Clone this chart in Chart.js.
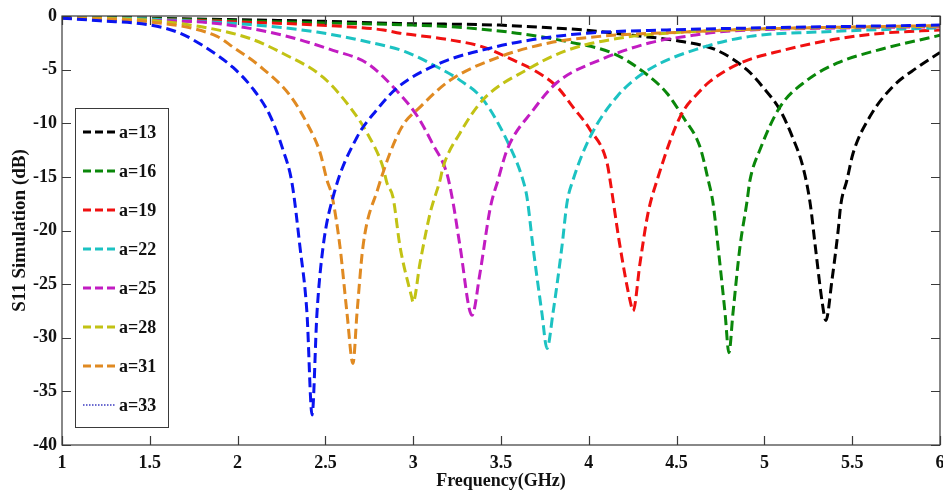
<!DOCTYPE html>
<html>
<head>
<meta charset="utf-8">
<script src="https://cdn.jsdelivr.net/npm/chart.js@4/dist/chart.umd.min.js"></script>
<style>
  html, body { margin: 0; padding: 0; background: #fff; }
  #wrap { width: 943px; height: 495px; }
</style>
</head>
<body>
<div id="wrap"><canvas id="c" width="943" height="495"></canvas></div>
<script>
// ---- data (frequency in GHz, S11 in dB) ----
const seriesLabels = ['a=13', 'a=16', 'a=19', 'a=22', 'a=25', 'a=28', 'a=31', 'a=33'];

const f13 = [1.0,1.5,2.0,2.5,2.92,3.49,3.78,3.97,4.25,4.54,4.73,4.90,4.99,5.09,5.16,5.22,5.26,5.29,5.33,5.35,5.385,5.42,5.435,5.47,5.505,5.60,5.73,5.87,6.0];
const s13 = [-0.05,-0.2,-0.35,-0.5,-0.7,-0.85,-1.1,-1.3,-1.8,-2.4,-3.2,-5.0,-6.6,-8.8,-11.3,-14.1,-17.4,-21.5,-26.8,-28.4,-24.6,-20.0,-17.6,-15.3,-12.8,-9.4,-6.6,-4.8,-3.4];

const f16 = [1.0,1.5,2.0,2.5,3.0,3.3,3.59,3.88,4.14,4.31,4.445,4.536,4.633,4.68,4.707,4.736,4.776,4.798,4.821,4.861,4.90,4.918,4.974,5.088,5.242,5.413,5.641,6.0];
const s16 = [-0.1,-0.25,-0.45,-0.65,-0.85,-1.1,-1.6,-2.4,-3.5,-5.2,-7.2,-9.4,-12.2,-15.3,-17.4,-21.5,-27.7,-31.4,-27.7,-21.5,-17.4,-15.3,-12.5,-8.5,-6.0,-4.4,-3.2,-1.8];

const f19 = [1.0,1.5,2.0,2.45,2.83,2.925,3.18,3.40,3.568,3.682,3.819,3.91,4.007,4.104,4.121,4.178,4.243,4.252,4.292,4.337,4.389,4.52,4.633,4.69,4.861,5.106,5.391,5.675,6.0];
const s19 = [-0.1,-0.3,-0.55,-0.84,-1.3,-1.6,-2.15,-2.9,-4.1,-5.0,-6.6,-8.5,-10.6,-13.7,-15.3,-21.5,-27.1,-27.5,-23.0,-18.4,-15.3,-9.4,-7.0,-6.1,-4.4,-3.2,-2.2,-1.6,-1.3];

const f22 = [1.0,1.5,2.07,2.452,2.737,2.95,3.13,3.267,3.398,3.551,3.625,3.648,3.682,3.733,3.762,3.796,3.847,3.876,3.91,4.007,4.161,4.332,4.633,4.918,5.30,6.0];
const s22 = [-0.1,-0.3,-0.8,-1.5,-2.4,-3.3,-4.7,-6.0,-7.8,-12.2,-15.3,-16.9,-21.5,-27.7,-31.0,-27.7,-21.5,-17.4,-15.3,-11.3,-7.5,-5.1,-3.0,-1.9,-1.5,-1.1];

const f25 = [1.0,1.5,1.883,2.259,2.543,2.737,2.885,3.022,3.113,3.192,3.227,3.267,3.335,3.38,3.44,3.483,3.534,3.682,3.819,4.063,4.349,4.593,4.73,5.5,6.0];
const s25 = [-0.15,-0.4,-0.7,-1.8,-3.2,-4.4,-6.6,-9.3,-12.0,-14.7,-17.4,-21.5,-27.9,-24.0,-17.8,-15.3,-12.5,-8.8,-6.2,-4.1,-2.5,-1.8,-1.5,-1.1,-1.0];

const f28 = [1.0,1.5,1.826,2.071,2.259,2.486,2.64,2.737,2.828,2.851,2.885,2.925,2.991,2.999,3.039,3.096,3.113,3.153,3.17,3.267,3.398,3.648,3.876,4.161,4.445,5.0,6.0];
const s28 = [-0.15,-0.4,-1.1,-2.1,-3.5,-5.7,-8.5,-10.9,-14.1,-15.6,-16.9,-21.5,-26.2,-26.7,-23.0,-18.4,-17.4,-15.3,-14.1,-10.9,-7.8,-5.0,-3.2,-2.1,-1.6,-1.2,-0.95];

const f31 = [1.0,1.5,1.883,1.974,2.128,2.298,2.395,2.469,2.509,2.538,2.583,2.623,2.657,2.68,2.714,2.797,2.93,3.039,3.21,3.494,3.779,4.063,4.536,5.0,6.0];
const s31 = [-0.2,-0.55,-1.9,-2.9,-4.7,-7.4,-10.0,-12.7,-15.3,-16.8,-21.5,-27.7,-32.4,-27.7,-21.5,-16.2,-10.5,-8.5,-6.0,-3.8,-2.5,-1.9,-1.5,-1.2,-0.9];

const f33 = [1.0,1.216,1.5,1.672,1.843,1.974,2.088,2.185,2.259,2.31,2.355,2.395,2.424,2.452,2.487,2.55,2.68,2.79,2.908,3.153,3.437,3.682,3.99,4.445,5.0,6.0];
const s33 = [-0.2,-0.45,-0.84,-1.6,-3.2,-4.8,-6.8,-9.3,-12.5,-15.6,-21.5,-27.7,-37.2,-27.7,-21.5,-16.5,-11.3,-8.8,-6.7,-4.4,-3.0,-2.2,-1.6,-1.3,-1.1,-0.85];

const xTickValues = [1, 1.5, 2, 2.5, 3, 3.5, 4, 4.5, 5, 5.5, 6];
const yTickValues = [0, -5, -10, -15, -20, -25, -30, -35, -40];

// ---- styling ----
const freqs = [f13, f16, f19, f22, f25, f28, f31, f33];
const vals  = [s13, s16, s19, s22, s25, s28, s31, s33];
const colors = ['#000000', '#0a870a', '#f01010', '#1cc2c2', '#c21cc2', '#c2c214', '#e08a22', '#0a14f0'];
const FONT = '"Liberation Serif", "Times New Roman", serif';

const datasets = seriesLabels.map((lab, i) => ({
  label: lab,
  data: freqs[i].map((x, k) => ({ x: x, y: vals[i][k] })),
  borderColor: colors[i],
  backgroundColor: colors[i],
  borderWidth: 3,
  borderDash: [10, 5],
  pointRadius: 0,
  fill: false,
  cubicInterpolationMode: 'monotone',
  order: seriesLabels.length - i,
  legendDash: i === 7 ? [1.5, 1.5] : [8, 4],
  legendColor: i === 7 ? '#6b6bd0' : colors[i],
  legendWidth: i === 7 ? 2 : 3
}));

const frameAndLegend = {
  id: 'frameAndLegend',
  afterDraw(chart) {
    const ctx = chart.ctx;
    const a = chart.chartArea;
    const xs = chart.scales.x, ys = chart.scales.y;
    ctx.save();
    ctx.strokeStyle = '#3a3a3a';
    ctx.lineWidth = 1.2;
    ctx.setLineDash([]);
    ctx.strokeRect(a.left, a.top, a.right - a.left, a.bottom - a.top);
    const TL = 9;
    ctx.beginPath();
    xTickValues.forEach(v => {
      const px = Math.round(xs.getPixelForValue(v)) + 0.5;
      ctx.moveTo(px, a.bottom); ctx.lineTo(px, a.bottom - TL);
      ctx.moveTo(px, a.top); ctx.lineTo(px, a.top + TL);
    });
    yTickValues.forEach(v => {
      const py = Math.round(ys.getPixelForValue(v)) + 0.5;
      ctx.moveTo(a.left, py); ctx.lineTo(a.left + TL, py);
      ctx.moveTo(a.right, py); ctx.lineTo(a.right - TL, py);
    });
    ctx.stroke();

    // legend
    const bx = 75, by = 108, bw = 93, bh = 319;
    ctx.fillStyle = '#ffffff';
    ctx.fillRect(bx, by, bw, bh);
    ctx.strokeStyle = '#3a3a3a';
    ctx.lineWidth = 1;
    ctx.strokeRect(bx + 0.5, by + 0.5, bw, bh);
    ctx.font = 'bold 18px ' + FONT;
    ctx.textBaseline = 'middle';
    ctx.textAlign = 'left';
    chart.data.datasets.forEach((ds, i) => {
      const y = 132 + i * 39;
      ctx.beginPath();
      ctx.strokeStyle = ds.legendColor;
      ctx.lineWidth = ds.legendWidth;
      ctx.setLineDash(ds.legendDash);
      ctx.moveTo(83, y); ctx.lineTo(116, y);
      ctx.stroke();
      ctx.setLineDash([]);
      ctx.fillStyle = '#111';
      ctx.fillText(ds.label, 119, y + 1);
    });
    ctx.restore();
  }
};

new Chart(document.getElementById('c'), {
  type: 'line',
  data: { datasets: datasets },
  options: {
    responsive: false,
    animation: false,
    devicePixelRatio: 1,
    layout: { padding: { left: 0, right: 3, top: 16, bottom: 0 } },
    plugins: { legend: { display: false }, tooltip: { enabled: false } },
    scales: {
      x: {
        type: 'linear',
        min: 1, max: 6,
        grid: { display: false, drawTicks: false },
        border: { display: false },
        afterBuildTicks: s => { s.ticks = xTickValues.map(v => ({ value: v })); },
        afterFit: s => { s.height = 50; s.paddingLeft = 0; s.paddingRight = 0; },
        ticks: {
          padding: 8,
          maxRotation: 0,
          autoSkip: false,
          color: '#111',
          font: { family: FONT, size: 18, weight: 'bold' },
          callback: v => String(v)
        },
        title: {
          display: true,
          text: 'Frequency(GHz)',
          color: '#111',
          font: { family: FONT, size: 18, weight: 'bold' },
          padding: { top: 0, bottom: 3 }
        }
      },
      y: {
        type: 'linear',
        min: -40, max: 0,
        grid: { display: false, drawTicks: false },
        border: { display: false },
        afterBuildTicks: s => { s.ticks = yTickValues.map(v => ({ value: v })); },
        afterFit: s => { s.width = 62; s.paddingTop = 0; s.paddingBottom = 0; },
        ticks: {
          padding: 5,
          autoSkip: false,
          color: '#111',
          font: { family: FONT, size: 18, weight: 'bold' },
          callback: v => String(v)
        },
        title: {
          display: true,
          text: 'S11 Simulation (dB)',
          color: '#111',
          font: { family: FONT, size: 19, weight: 'bold' },
          padding: { top: 9, bottom: 0 }
        }
      }
    }
  },
  plugins: [frameAndLegend]
});
</script>
</body>
</html>
